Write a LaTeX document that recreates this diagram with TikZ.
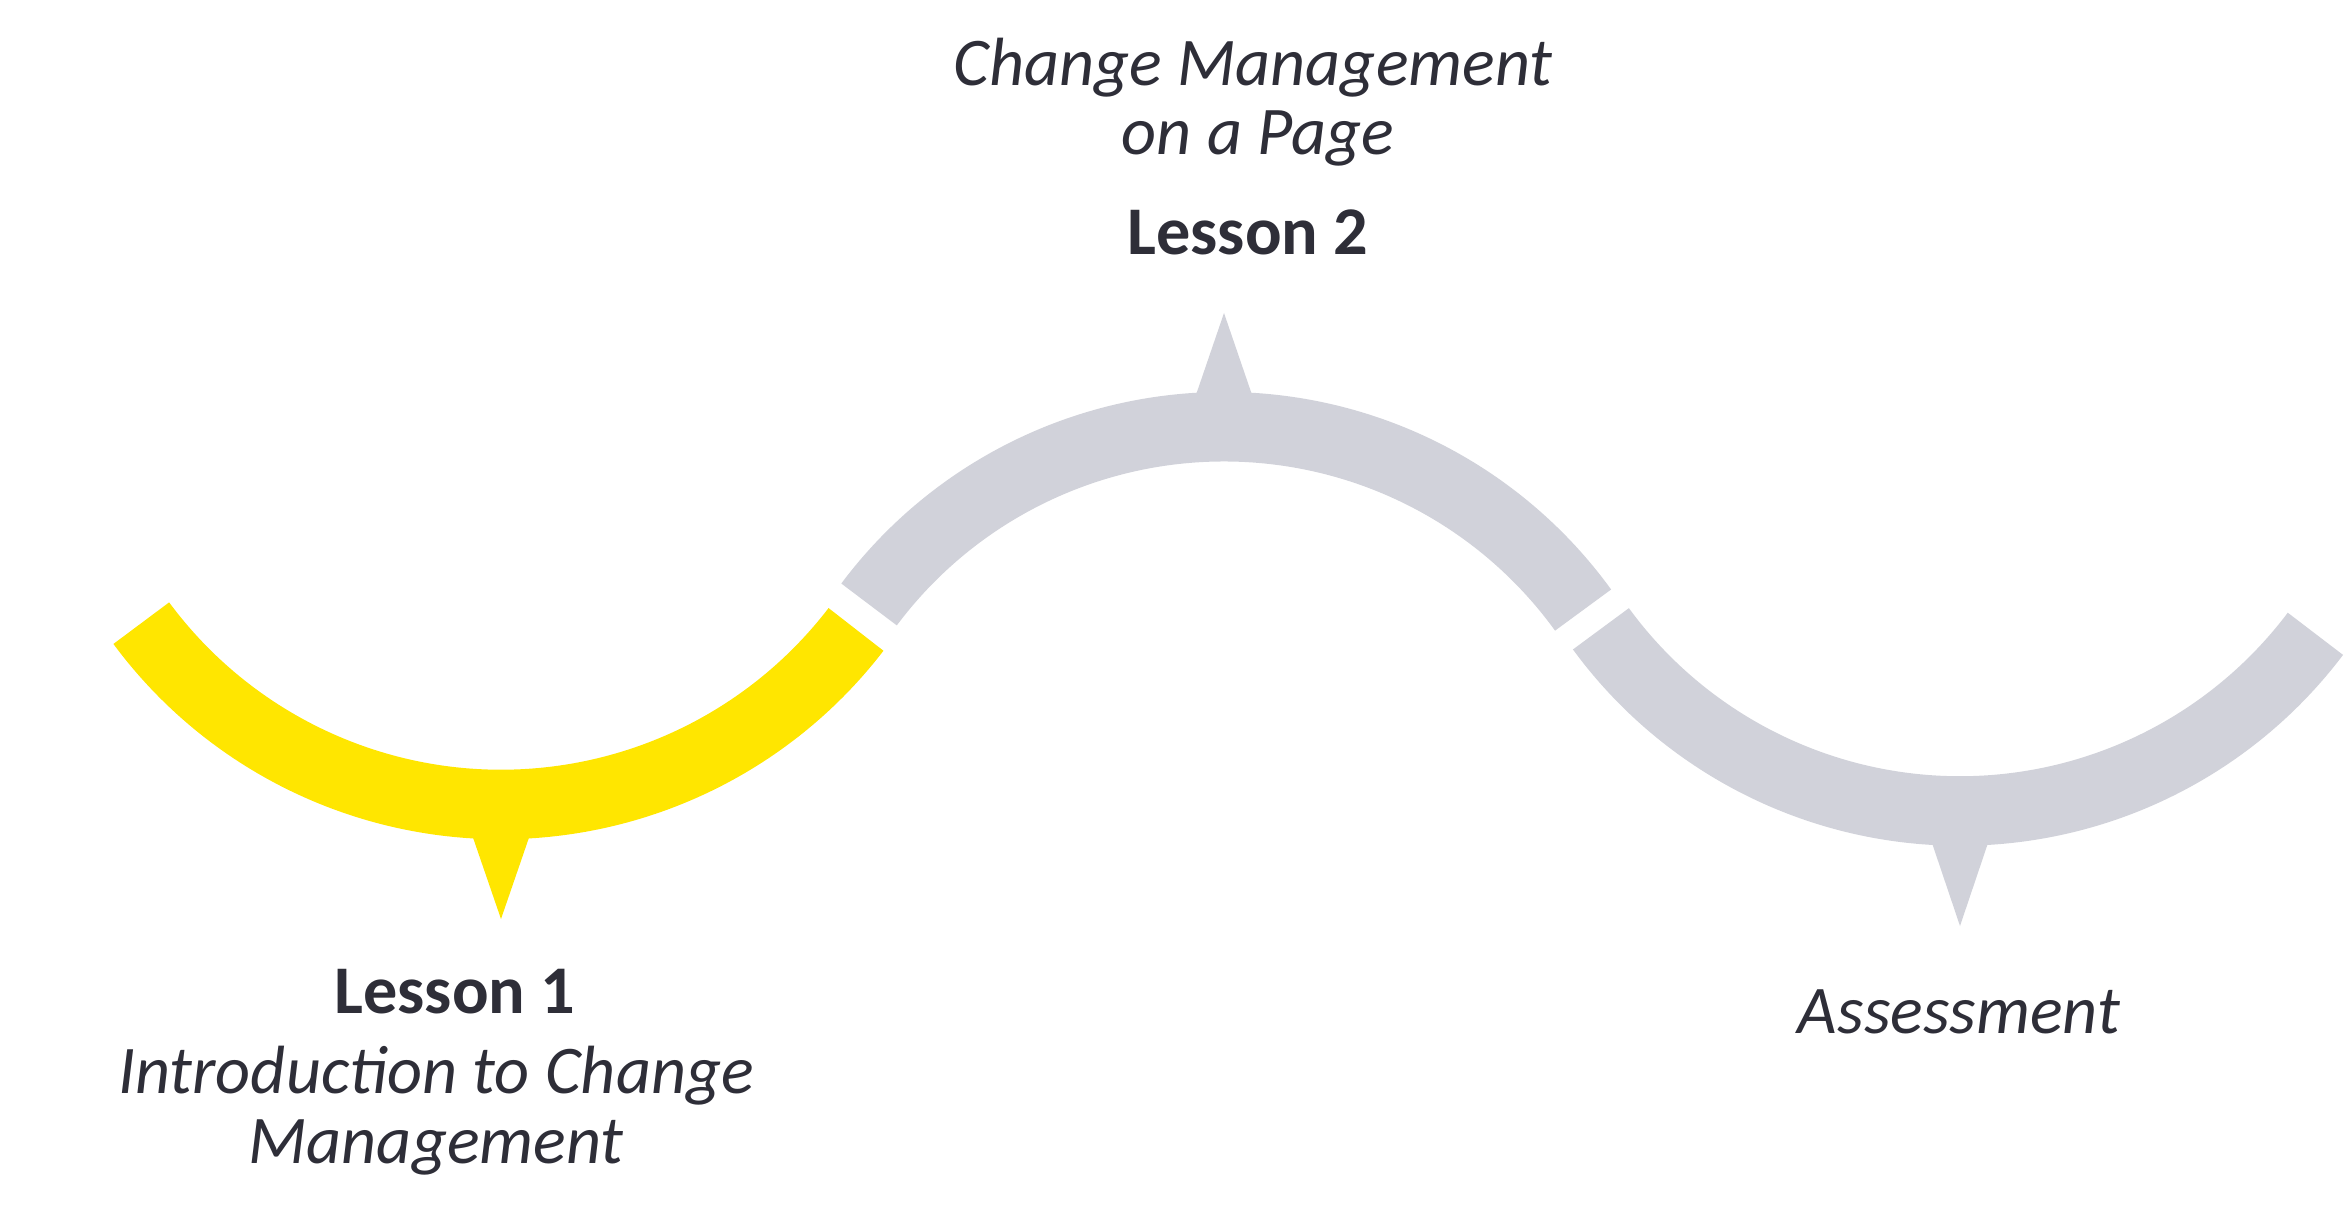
\documentclass[tikz,border=0pt]{standalone}
\usepackage{fontspec}
\setmainfont{Carlito}
\definecolor{eyyellow}{HTML}{FFE600}
\definecolor{eygrey}{RGB}{209,210,218}
\definecolor{eytext}{HTML}{2E2E38}
\tikzset{
  band/.style={line width=0.695cm, line cap=butt},
  lbl/.style={anchor=base, inner sep=0pt, text=eytext, font=\fontsize{19.4}{23}\selectfont},
  lessonlbl/.style={lbl, font=\fontsize{19.4}{23}\selectfont\bfseries},
  topiclbl/.style={lbl, font=\fontsize{19.4}{23}\selectfont\itshape}
}
\begin{document}
\begin{tikzpicture}[x=0.01cm, y=0.01cm]
\useasboundingbox (0,0) rectangle (2347,1220);
\coordinate (C1) at (501, 863);
\coordinate (C2) at (1224, 350);
\coordinate (C3) at (1960, 854);

% wave
\draw[band, eyyellow] (C1) ++(216.5:447.5) arc [start angle=216.5, end angle=322.5, radius=447.5];
\draw[band, eygrey] (C2) ++(143.2:443.3) arc [start angle=143.2, end angle=35.9, radius=443.3];
\draw[band, eygrey] (C3) ++(216.2:445) arc [start angle=216.2, end angle=323, radius=445];

% pointers
\fill[eyyellow] (469.7, 392) -- (501, 301) -- (532.3, 392) -- cycle;
\fill[eygrey] (1193.2, 817) -- (1224, 907) -- (1254.8, 817) -- cycle;
\fill[eygrey] (1929.3, 385) -- (1960, 294) -- (1990.7, 385) -- cycle;

\node (T2a) at (1253, 1134) [topiclbl] {Change Management};
\node (T2b) at (1258, 1065) [topiclbl] {on a Page};
\node (L2) at (1248, 965) [lessonlbl] {Lesson 2};

\node (L1) at (455, 207) [lessonlbl] {Lesson 1};
\node (T1a) at (436, 127) [topiclbl] {Introduction to Change};
\node (T1b) at (436, 57) [topiclbl] {Management};

\node (T3) at (1959, 187) [topiclbl] {Assessment};
\end{tikzpicture}
\end{document}
